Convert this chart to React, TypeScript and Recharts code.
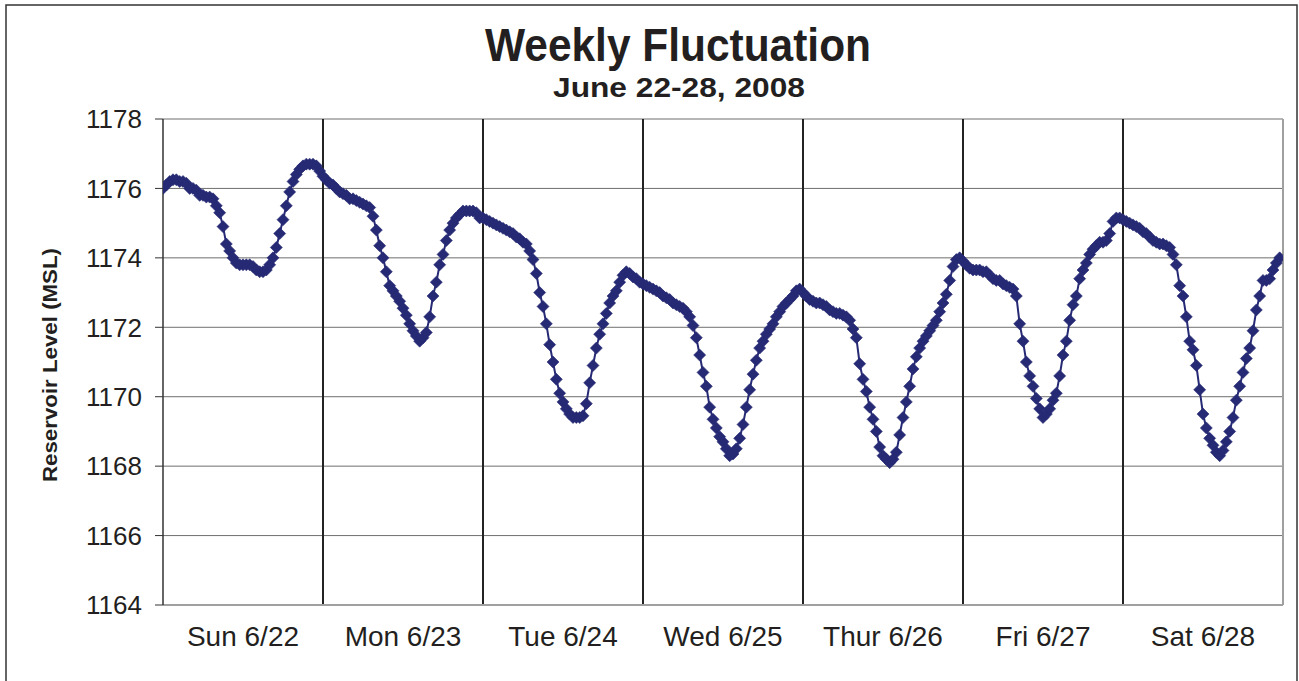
import React from "react";
import {
  LineChart,
  Line,
  XAxis,
  YAxis,
  CartesianGrid,
  ReferenceLine,
} from "recharts";

// half-hourly reservoir readings, 48 per day
const sun = [
  1176.0, 1176.1, 1176.2, 1176.25, 1176.25, 1176.2, 1176.2, 1176.15, 1176.0, 1176.0, 1175.95, 1175.8,
  1175.8, 1175.75, 1175.75, 1175.7, 1175.5, 1175.3, 1174.9, 1174.4, 1174.2, 1174.0, 1173.85, 1173.8,
  1173.8, 1173.8, 1173.8, 1173.75, 1173.65, 1173.6, 1173.6, 1173.65, 1173.8, 1174.0, 1174.3, 1174.7,
  1175.1, 1175.5, 1175.9, 1176.2, 1176.4, 1176.55, 1176.65, 1176.7, 1176.7, 1176.7, 1176.65, 1176.5,
];
const mon = [
  1176.35, 1176.25, 1176.15, 1176.1, 1176.0, 1175.9, 1175.85, 1175.8, 1175.7, 1175.7, 1175.65, 1175.6,
  1175.55, 1175.5, 1175.45, 1175.2, 1174.8, 1174.35, 1174.0, 1173.6, 1173.2, 1173.05, 1172.9, 1172.75,
  1172.55, 1172.35, 1172.1, 1171.9, 1171.75, 1171.6, 1171.7, 1171.85, 1172.3, 1172.9, 1173.3, 1173.8,
  1174.1, 1174.5, 1174.8, 1175.0, 1175.15, 1175.25, 1175.35, 1175.35, 1175.35, 1175.35, 1175.3, 1175.15,
];
const tue = [
  1175.15, 1175.1, 1175.05, 1175.0, 1174.95, 1174.9, 1174.85, 1174.8, 1174.75, 1174.7, 1174.6, 1174.55,
  1174.45, 1174.4, 1174.2, 1173.95, 1173.55, 1173.0, 1172.6, 1172.1, 1171.5, 1171.0, 1170.5, 1170.1,
  1169.85, 1169.65, 1169.5, 1169.4, 1169.4, 1169.4, 1169.45, 1169.8, 1170.4, 1170.9, 1171.4, 1171.8,
  1172.1, 1172.4, 1172.7, 1172.9, 1173.05, 1173.3, 1173.5, 1173.6, 1173.55, 1173.45, 1173.4, 1173.3,
];
const wed = [
  1173.25, 1173.2, 1173.15, 1173.1, 1173.05, 1173.0, 1172.9, 1172.85, 1172.8, 1172.7, 1172.65, 1172.6,
  1172.55, 1172.45, 1172.3, 1172.05, 1171.7, 1171.2, 1170.7, 1170.3, 1169.7, 1169.35, 1169.1, 1168.85,
  1168.7, 1168.5, 1168.3, 1168.35, 1168.5, 1168.8, 1169.2, 1169.7, 1170.2, 1170.65, 1171.05, 1171.4,
  1171.6, 1171.8, 1171.95, 1172.1, 1172.3, 1172.45, 1172.6, 1172.7, 1172.8, 1172.9, 1173.05, 1173.1,
];
const thu = [
  1173.0, 1172.9, 1172.8, 1172.75, 1172.7, 1172.7, 1172.65, 1172.6, 1172.5, 1172.45, 1172.4, 1172.4,
  1172.35, 1172.3, 1172.2, 1171.95, 1171.7, 1170.95, 1170.5, 1170.15, 1169.7, 1169.35, 1169.0, 1168.55,
  1168.3, 1168.2, 1168.1, 1168.2, 1168.4, 1168.9, 1169.4, 1169.85, 1170.3, 1170.8, 1171.15, 1171.4,
  1171.6, 1171.75, 1171.9, 1172.05, 1172.2, 1172.45, 1172.7, 1172.95, 1173.35, 1173.75, 1173.95, 1174.0,
];
const fri = [
  1173.9, 1173.8, 1173.7, 1173.65, 1173.65, 1173.65, 1173.6, 1173.6, 1173.5, 1173.4, 1173.35, 1173.35,
  1173.25, 1173.2, 1173.15, 1173.1, 1172.9, 1172.1, 1171.6, 1171.0, 1170.6, 1170.3, 1169.95, 1169.65,
  1169.4, 1169.5, 1169.65, 1169.9, 1170.1, 1170.6, 1171.2, 1171.6, 1172.2, 1172.65, 1172.9, 1173.4,
  1173.65, 1173.85, 1174.1, 1174.25, 1174.35, 1174.45, 1174.45, 1174.5, 1174.7, 1175.05, 1175.15, 1175.15,
];
const sat = [
  1175.1, 1175.05, 1175.0, 1174.95, 1174.9, 1174.85, 1174.75, 1174.7, 1174.6, 1174.5, 1174.45, 1174.4,
  1174.4, 1174.35, 1174.3, 1174.1, 1173.8, 1173.2, 1172.9, 1172.3, 1171.6, 1171.35, 1170.9, 1170.2,
  1169.5, 1169.1, 1168.8, 1168.6, 1168.4, 1168.3, 1168.45, 1168.7, 1169.0, 1169.4, 1169.9, 1170.3,
  1170.7, 1171.1, 1171.4, 1171.9, 1172.5, 1172.9, 1173.35, 1173.35, 1173.4, 1173.65, 1173.85, 1174.0,
];

const dayLabels = ["Sun 6/22", "Mon 6/23", "Tue 6/24", "Wed 6/25", "Thur 6/26", "Fri 6/27", "Sat 6/28"];
const levelTicks = [1164, 1166, 1168, 1170, 1172, 1174, 1176, 1178];

const PER_DAY = 48;
const levels = [...sun, ...mon, ...tue, ...wed, ...thu, ...fri, ...sat];
const data = levels.map((level, t) => ({ t, level }));
const dayCenters = dayLabels.map((_, i) => i * PER_DAY + PER_DAY / 2);
const dayBreaks = dayLabels.slice(1).map((_, i) => (i + 1) * PER_DAY);

const NAVY = "#262a74";
const FONT = "'Liberation Sans', Arial, sans-serif";

function Diamond(props: any) {
  const { cx, cy, index } = props;
  if (cx == null || cy == null) return null;
  const r = 6;
  return (
    <path
      key={`d-${index}`}
      d={`M${cx},${cy - r}L${cx + r},${cy}L${cx},${cy + r}L${cx - r},${cy}Z`}
      fill={NAVY}
      stroke={NAVY}
      strokeWidth={0.6}
    />
  );
}

export default function App() {
  return (
    <div style={{ position: "absolute", left: 0, top: 0, width: 1299, height: 681, background: "#fff" }}>
      <LineChart
        width={1299}
        height={681}
        data={data}
        margin={{ top: 119, right: 16, bottom: 36, left: 103 }}
        style={{ fontFamily: FONT }}
      >
        <CartesianGrid vertical={false} stroke="#6f6f6f" strokeWidth={1} />
        <XAxis
          dataKey="t"
          type="number"
          domain={[0, dayLabels.length * PER_DAY]}
          ticks={dayCenters}
          tickFormatter={(v: number) => dayLabels[Math.round((v - PER_DAY / 2) / PER_DAY)]}
          tickLine={false}
          tickSize={0}
          tickMargin={21}
          height={40}
          axisLine={{ stroke: "#a0a0a0", strokeWidth: 2 }}
          tick={{ fontSize: 28, fill: "#231f20", fontFamily: FONT }}
          interval={0}
          allowDataOverflow
        />
        <YAxis
          domain={[1164, 1178]}
          ticks={levelTicks}
          width={60}
          tickSize={8}
          tickMargin={13}
          axisLine={{ stroke: "#333", strokeWidth: 1.5 }}
          tickLine={{ stroke: "#333" }}
          tick={{ fontSize: 26, fill: "#231f20", fontFamily: FONT }}
          interval={0}
          allowDataOverflow
        />
        {dayBreaks.map((x) => (
          <ReferenceLine key={x} x={x} stroke="#222" strokeWidth={2} />
        ))}
        <ReferenceLine x={dayLabels.length * PER_DAY} stroke="#a0a0a0" strokeWidth={2} />
        <Line
          type="linear"
          dataKey="level"
          stroke={NAVY}
          strokeWidth={2}
          dot={Diamond}
          activeDot={false}
          isAnimationActive={false}
        />
      </LineChart>
      <svg
        width={1299}
        height={681}
        style={{ position: "absolute", left: 0, top: 0, pointerEvents: "none" }}
      >
        <rect x={6} y={5} width={1291} height={700} fill="none" stroke="#333" strokeWidth={1.5} />
        <text
          x={678}
          y={61}
          textAnchor="middle"
          fontFamily={FONT}
          fontWeight="bold"
          fontSize={46}
          fill="#231f20"
          textLength={386}
          lengthAdjust="spacingAndGlyphs"
        >
          Weekly Fluctuation
        </text>
        <text
          x={679}
          y={97}
          textAnchor="middle"
          fontFamily={FONT}
          fontWeight="bold"
          fontSize={27}
          fill="#231f20"
          textLength={252}
          lengthAdjust="spacingAndGlyphs"
        >
          June 22-28, 2008
        </text>
        <text
          x={57}
          y={365}
          transform="rotate(-90 57 365)"
          textAnchor="middle"
          fontFamily={FONT}
          fontWeight="bold"
          fontSize={20}
          fill="#231f20"
          textLength={234}
          lengthAdjust="spacingAndGlyphs"
        >
          Reservoir Level (MSL)
        </text>
      </svg>
    </div>
  );
}
